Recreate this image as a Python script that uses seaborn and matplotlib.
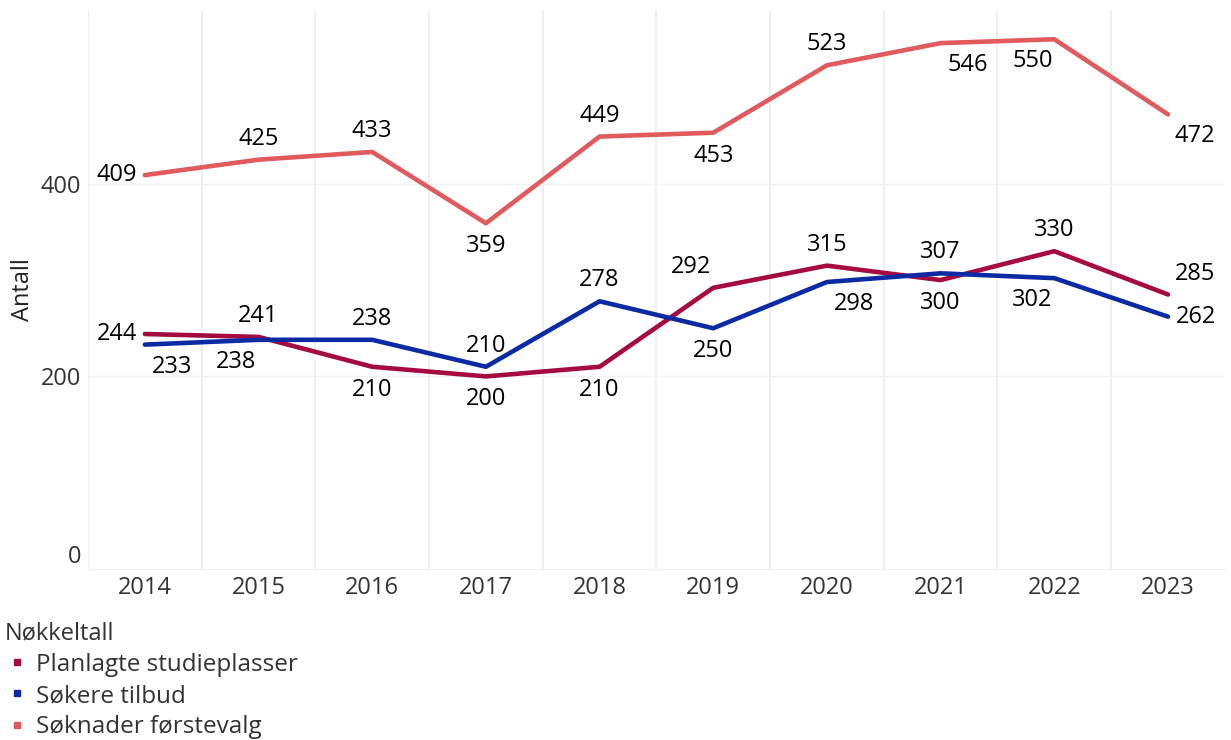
import matplotlib.pyplot as plt
import numpy as np
import pandas as pd
import seaborn as sns
from matplotlib.lines import Line2D

# Data
years = ["2014", "2015", "2016", "2017", "2018", "2019", "2020", "2021", "2022", "2023"]
planlagte = [244, 241, 210, 200, 210, 292, 315, 300, 330, 285]
sokere_tilbud = [233, 238, 238, 210, 278, 250, 298, 307, 302, 262]
soknader_forstevalg = [409, 425, 433, 359, 449, 453, 523, 546, 550, 472]
series_names = ["Planlagte studieplasser", "Søkere tilbud", "Søknader førstevalg"]

# Label placement per point (compass direction relative to the point)
place_planlagte = ["w", "n", "s", "s", "s", "nw", "n", "s", "n", "ne"]
place_sokere = ["se", "sw", "n", "n", "n", "s", "se", "n", "sw", "e"]
place_soknader = ["w", "n", "n", "s", "n", "s", "n", "se", "sw", "se"]

colors = {"Planlagte studieplasser": "#a50b3e",
          "Søkere tilbud": "#0b2aa3",
          "Søknader førstevalg": "#e05a5e"}

sns.set_style("white")
plt.rcParams["font.family"] = ["Open Sans", "DejaVu Sans"]
FS = 17

df = pd.DataFrame({
    "Year": years * 3,
    "Antall": planlagte + sokere_tilbud + soknader_forstevalg,
    "Nøkkeltall": np.repeat(series_names, len(years)),
})

fig = plt.figure(figsize=(12.31, 7.4), dpi=100)
ax = fig.add_axes([0.0715, 0.231, 0.9235, 0.755])

sns.lineplot(data=df, x="Year", y="Antall", hue="Nøkkeltall", palette=colors,
             linewidth=3.3, sort=False, legend=False, ax=ax)

offsets = {"n": (0, 21), "s": (0, -23), "w": (-28, 0), "e": (28, 0),
           "se": (27, -22), "sw": (-22, -22), "nw": (-22, 21), "ne": (27, 21)}

for vals, places in [(planlagte, place_planlagte), (sokere_tilbud, place_sokere),
                     (soknader_forstevalg, place_soknader)]:
    for i, (v, p) in enumerate(zip(vals, places)):
        ax.annotate(str(v), (i, v), xytext=offsets[p], textcoords="offset pixels",
                    ha="center", va="center", fontsize=FS, color="black")

ax.set_xlim(-0.5, len(years) - 0.5)
ax.set_ylim(0, 580)
ax.set_yticks([0, 200, 400])
ax.set_xlabel("")
ax.set_ylabel("Antall", fontsize=FS, color="#222222", labelpad=4)
ax.tick_params(axis="both", length=0, labelsize=FS, labelcolor="#333333", pad=5)
ax.get_yticklabels()[0].set_va("bottom")

# grid lines between categories and faint horizontal lines
for x in np.arange(0.5, len(years) - 1, 1):
    ax.axvline(x, color="#ececec", linewidth=1.2, zorder=0)
for y in [200, 400]:
    ax.axhline(y, color="#f2f2f2", linewidth=1.0, zorder=0)

for side in ["top", "right"]:
    ax.spines[side].set_visible(False)
ax.spines["left"].set_color("#f0f0f0")
ax.spines["bottom"].set_color("#f0f0f0")

handles = [Line2D([0], [0], marker="s", linestyle="", markersize=4,
                  color=colors[n]) for n in series_names]
leg = fig.legend(handles, series_names, title="Nøkkeltall", loc="upper left",
                 bbox_to_anchor=(-0.008, 0.18), frameon=False, fontsize=17.5,
                 title_fontsize=FS, alignment="left", handletextpad=0.3,
                 handlelength=1.0, labelspacing=0.3, borderpad=0.1)
for t in leg.get_texts():
    t.set_color("#333333")
leg.get_title().set_color("#333333")

fig.savefig("out.png", dpi=100)
